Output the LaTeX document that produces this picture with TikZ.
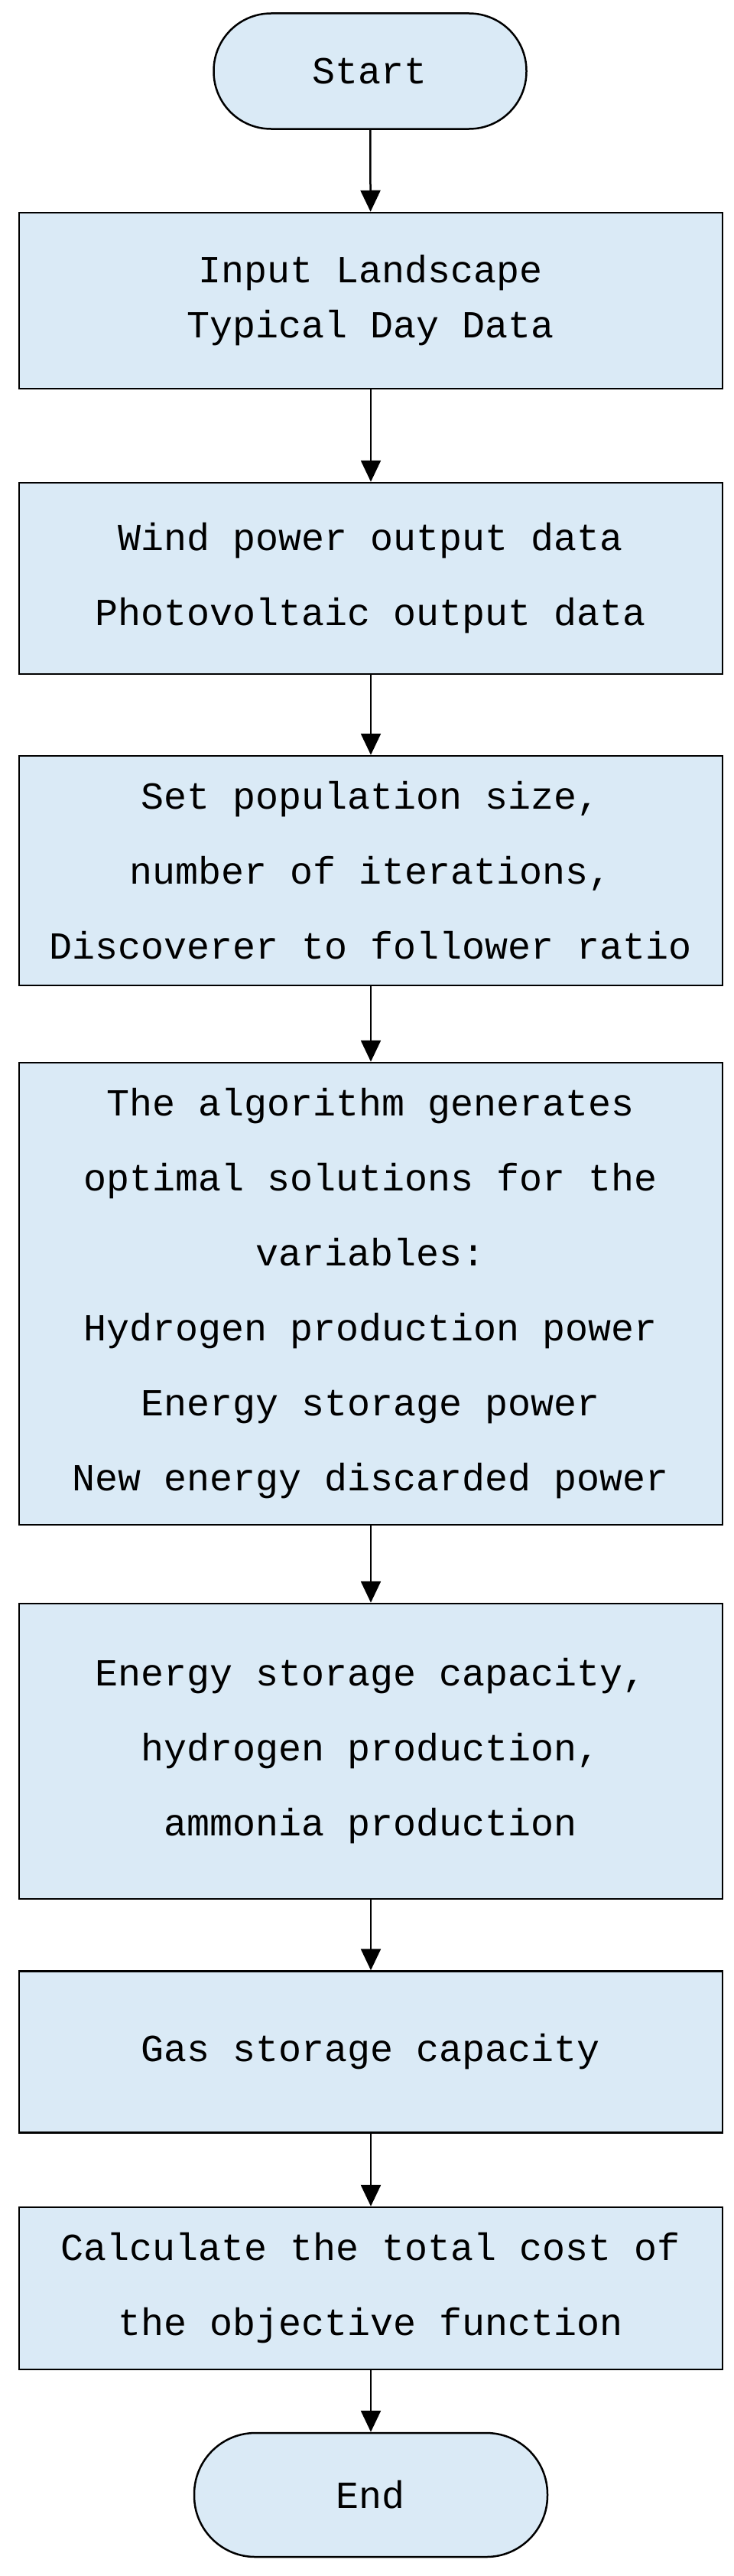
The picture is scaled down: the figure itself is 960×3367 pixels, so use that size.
\documentclass[tikz,border=0pt]{standalone}
\usepackage{fontspec}
\setmainfont{Liberation Mono}
\usetikzlibrary{arrows.meta}
\definecolor{boxfill}{HTML}{DAEAF6}
\begin{document}
\begin{tikzpicture}[x=1pt,y=-1pt,
  base/.style={draw=black,line width=2.5pt,fill=boxfill,align=center,inner sep=0pt,
    font=\fontsize{50}{98}\selectfont},
  proc/.style={base,minimum width=920pt},
  term/.style={base,rounded rectangle arc},
  arr/.style={line width=2.5pt,-{Triangle[width=26pt,length=28pt]}}]
\useasboundingbox (0,0) rectangle (960,3367);
\node[base,rounded corners=75pt,minimum width=409pt,minimum height=151pt] (s) at (484,93) {Start};
\node[proc,minimum height=230pt,font=\fontsize{50}{72}\selectfont] (b1) at (485,393) {Input Landscape\\Typical Day Data};
\node[proc,minimum height=250pt] (b2) at (485,756) {Wind power output data\\Photovoltaic output data};
\node[proc,minimum height=300pt] (b3) at (485,1138) {Set population size,\\number of iterations,\\Discoverer to follower ratio};
\node[proc,minimum height=604pt] (b4) at (485,1691) {The algorithm generates\\optimal solutions for the\\variables:\\Hydrogen production power\\Energy storage power\\New energy discarded power};
\node[proc,minimum height=386pt] (b5) at (485,2289) {Energy storage capacity,\\hydrogen production,\\ammonia production};
\node[proc,minimum height=211pt] (b6) at (485,2682) {Gas storage capacity};
\node[proc,minimum height=212pt] (b7) at (485,2991) {Calculate the total cost of\\the objective function};
\node[base,rounded corners=80pt,minimum width=462pt,minimum height=162pt] (e) at (485,3261) {End};
\draw[arr] (s) -- (b1);
\draw[arr] (b1) -- (b2);
\draw[arr] (b2) -- (b3);
\draw[arr] (b3) -- (b4);
\draw[arr] (b4) -- (b5);
\draw[arr] (b5) -- (b6);
\draw[arr] (b6) -- (b7);
\draw[arr] (b7) -- (e);
\end{tikzpicture}
\end{document}
